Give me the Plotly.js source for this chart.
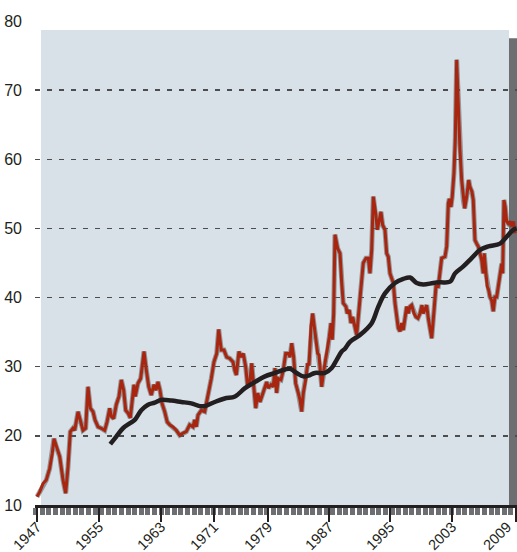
<!DOCTYPE html>
<html>
<head>
<meta charset="utf-8">
<script src="https://cdn.plot.ly/plotly-3.0.1.min.js"></script>
<style>html,body{margin:0;padding:0;background:#fff;}#chart{width:517px;height:552px;}</style>
</head>
<body>
<div id="chart"></div>
<script>
// Red series (year, value)
const redYears = [1947.0,1947.35,1947.78,1948.20,1948.64,1948.98,1949.20,1949.50,1949.94,1950.37,1950.71,1951.01,1951.31,1951.66,1951.88,1952.31,1952.60,1952.95,1953.30,1953.60,1953.90,1954.25,1954.51,1954.90,1955.32,1955.76,1956.06,1956.41,1956.62,1956.93,1957.26,1957.61,1957.91,1958.22,1958.48,1958.78,1959.08,1959.55,1959.72,1960.07,1960.42,1960.85,1961.15,1961.46,1961.79,1962.14,1962.40,1962.66,1962.92,1963.18,1963.53,1963.86,1964.18,1964.60,1965.03,1965.47,1965.90,1966.32,1966.76,1967.19,1967.41,1967.62,1967.84,1968.27,1968.71,1969.14,1969.56,1969.91,1970.26,1970.52,1970.85,1971.20,1971.55,1971.94,1972.37,1972.59,1972.80,1973.14,1973.40,1973.70,1974.01,1974.27,1974.57,1974.79,1975.00,1975.31,1975.57,1975.86,1976.16,1976.51,1976.73,1976.94,1977.29,1977.58,1977.80,1978.02,1978.23,1978.58,1978.88,1979.19,1979.52,1979.75,1979.97,1980.22,1980.48,1980.82,1981.04,1981.26,1981.47,1981.78,1982.04,1982.21,1982.46,1982.68,1982.89,1983.11,1983.33,1983.50,1983.67,1983.85,1984.06,1984.37,1984.63,1984.83,1985.05,1985.22,1985.40,1985.57,1985.92,1986.22,1986.44,1986.64,1986.99,1987.16,1987.42,1987.64,1987.86,1988.16,1988.38,1988.59,1988.90,1989.23,1989.58,1989.88,1990.10,1990.32,1990.53,1990.84,1991.05,1991.27,1991.52,1991.74,1992.04,1992.26,1992.47,1992.69,1992.91,1993.12,1993.34,1993.56,1993.76,1993.98,1994.20,1994.41,1994.63,1994.85,1995.06,1995.28,1995.50,1995.80,1996.05,1996.31,1996.57,1996.83,1997.00,1997.22,1997.44,1997.65,1997.87,1998.09,1998.38,1998.64,1998.94,1999.38,1999.81,2000.03,2000.24,2000.37,2000.58,2000.75,2000.97,2001.14,2001.32,2001.53,2001.75,2001.97,2002.18,2002.36,2002.62,2002.88,2003.04,2003.30,2003.47,2003.69,2003.91,2004.12,2004.34,2004.56,2004.76,2004.89,2005.11,2005.28,2005.46,2005.63,2005.85,2006.06,2006.28,2006.50,2006.71,2006.93,2007.15,2007.28,2007.44,2007.61,2007.79,2008.00,2008.22,2008.44,2008.65,2008.87];
const redValues = [11.2,11.9,13.1,13.6,15.3,17.5,19.6,18.4,17.0,13.6,11.7,15.5,20.6,21.1,20.8,23.5,22.3,20.8,21.1,27.1,24.0,23.5,22.3,21.3,21.1,20.8,22.0,24.0,22.8,22.5,24.5,25.7,28.1,26.6,23.7,23.3,22.6,27.4,25.7,27.6,28.3,32.2,29.5,27.1,25.9,27.4,26.6,27.8,26.6,24.7,23.5,22.0,21.6,21.3,20.8,20.1,20.4,20.6,21.6,21.3,22.3,21.3,23.0,23.7,23.5,25.7,28.3,30.7,31.9,35.4,32.4,32.4,31.4,31.2,30.7,29.5,28.8,32.2,31.4,31.9,30.0,27.1,28.1,30.5,28.1,24.0,26.2,24.9,25.9,26.9,27.8,26.9,27.4,27.1,29.8,26.2,28.3,28.1,29.5,31.9,31.9,31.4,33.4,31.4,27.6,26.2,25.2,23.5,26.2,28.1,30.5,30.2,35.8,37.7,35.8,33.9,31.9,31.7,29.5,27.1,29.0,31.0,32.4,34.3,36.3,33.9,37.7,49.1,47.1,46.4,42.1,39.2,38.7,37.7,38.2,36.3,37.2,35.8,34.6,37.2,41.1,45.0,45.7,45.7,43.5,46.9,54.6,52.2,49.8,51.2,52.4,50.5,49.8,46.4,45.9,43.5,42.8,42.1,39.2,37.2,35.6,35.1,36.3,35.3,37.2,38.7,37.7,38.7,38.9,37.7,37.2,37.0,37.7,38.9,37.7,38.2,38.9,37.0,35.3,34.1,38.0,41.6,41.6,45.7,45.9,47.4,53.6,54.3,53.1,54.6,58.0,62.8,74.4,67.6,61.3,57.0,54.1,52.9,54.6,57.0,56.0,55.3,54.1,48.3,47.8,47.4,46.4,45.4,43.5,46.4,43.5,41.6,41.1,40.1,39.6,38.0,40.1,40.1,41.6,43.5,44.9,43.5,54.1,53.1,51.0,50.7,51.0,50.3,51.0,49.3];

// Black moving-average series
const avgYears = [1956.48,1957.26,1958.13,1959.00,1959.65,1960.50,1961.37,1962.23,1963.09,1964.38,1965.68,1966.97,1968.06,1968.71,1970.00,1971.29,1972.63,1973.92,1975.22,1976.51,1977.80,1979.10,1979.75,1980.61,1981.47,1982.11,1982.98,1984.28,1985.14,1985.79,1986.44,1986.86,1987.51,1988.81,1990.32,1991.18,1992.04,1993.34,1994.41,1995.28,1996.15,1997.00,1998.29,1999.16,2000.46,2001.11,2002.18,2003.26,2004.34,2005.41,2006.93,2007.79,2008.65,2009.09];
const avgValues = [18.8,19.9,21.1,21.8,22.3,23.7,24.5,24.8,25.2,25.1,24.9,24.7,24.3,24.3,24.9,25.4,25.7,26.9,27.8,28.6,29.1,29.6,29.7,29.1,28.6,28.7,29.1,29.1,29.8,31.0,32.2,32.6,33.6,34.6,36.3,38.7,40.6,42.1,42.7,42.9,42.1,41.9,42.1,42.2,42.3,43.5,44.5,45.7,46.9,47.4,47.8,48.8,49.8,50.0];

// Axis tick labels
const xTickText = ['1947','1955','1963','1971','1979','1987','1995','2003','2009'];
const xTickVals = [1947, 1955.02, 1963.05, 1969.91, 1976.90, 1984.79, 1992.69, 2000.71, 2009.0];
const yTickVals = [10,20,30,40,50,60,70,80];

const traces = [
  {x: redYears, y: redValues, type:'scatter', mode:'lines',
   line:{color:'rgba(90,90,90,0.55)', width:5}, hoverinfo:'skip', showlegend:false},
  {x: redYears, y: redValues, type:'scatter', mode:'lines',
   line:{color:'#a8260f', width:3}, showlegend:false},
  {x: avgYears, y: avgValues, type:'scatter', mode:'lines',
   line:{color:'#231f20', width:4.5, shape:'spline'}, showlegend:false}
];

// Rotated x tick labels as annotations (to match the reference placement)
const xLabelAnnotations = xTickText.map((t, i) => ({
  text: t, x: xTickVals[i], xref:'x', y: -0.023, yref:'paper',
  xanchor:'right', yanchor:'top', xshift: (i === xTickText.length - 1) ? 1 : 10,
  textangle:-45, showarrow:false,
  font:{size:14.5, color:'#231f20'}
}));

const layout = {
  width:517, height:552,
  margin:{l:35, r:0, t:21, b:47, pad:0},
  paper_bgcolor:'#ffffff', plot_bgcolor:'rgba(0,0,0,0)',
  showlegend:false,
  font:{family:'"Liberation Sans", Arial, sans-serif', color:'#231f20', size:15},
  xaxis:{
    range:[1946.74, 2009.13], fixedrange:true,
    tickmode:'array', tickvals:xTickVals, ticktext:xTickText, showticklabels:false,
    ticks:'outside', ticklen:14, tickwidth:2, tickcolor:'#231f20',
    showgrid:false, zeroline:false,
    showline:true, linecolor:'#231f20', linewidth:3,
    minor:{tickmode:'linear', tick0:1948.55, dtick:0.854, ticks:'outside', ticklen:7, tickwidth:5, tickcolor:'#6d6e71', showgrid:false}
  },
  yaxis:{
    range:[10, 80], fixedrange:true,
    tickmode:'array', tickvals:yTickVals,
    showgrid:true, gridcolor:'#4d4d4f', gridwidth:1.5, griddash:'5px,7px',
    zeroline:false, showline:false, ticks:'',
    ticklabelstandoff:12,
    tickfont:{size:16, color:'#231f20'}
  },
  annotations: xLabelAnnotations,
  shapes:[
    {type:'rect', layer:'below', xref:'paper', yref:'y', x0:0.01245, x1:0.9834, y0:10, y1:78.7,
     fillcolor:'#d9e1e8', line:{width:0}},
    {type:'rect', layer:'below', xref:'paper', yref:'y', x0:0.9834, x1:1, y0:10, y1:77.5,
     fillcolor:'#6d6e71', line:{width:0}}
  ]
};

Plotly.newPlot('chart', traces, layout, {displayModeBar:false, staticPlot:true});
</script>
</body>
</html>
